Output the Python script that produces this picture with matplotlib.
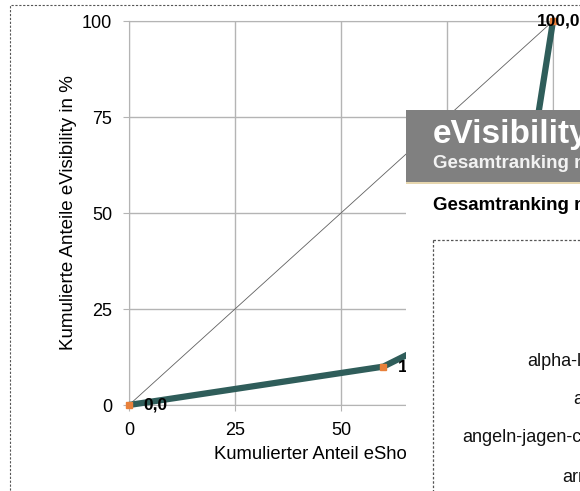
import matplotlib
matplotlib.use("Agg")
import matplotlib.pyplot as plt
import matplotlib.patches as mpatches

plt.rcParams['font.family'] = ['Liberation Sans', 'DejaVu Sans']

# Lorenz-Kurve: kumulierte Anteile
anteil_shops = [0, 60, 80, 95, 100]
anteil_visibility = [0, 10.0, 21, 65, 100]
punkt_labels = ["%.1f" % v for v in anteil_visibility]
punkt_labels = [s.replace(".", ",") for s in punkt_labels]

ticks = [0, 25, 50, 75, 100]

# Ranking-Liste (rechts, angeschnitten)
ranking_namen = ["alpha-lernhilfen.de", "amazon.de", "angeln-jagen-camping.de", "armbanduhren.de"]

W, H = 580, 491
fig = plt.figure(figsize=(W / 100, H / 100), dpi=100)
fig.patch.set_facecolor("white")

# gestrichelter Rahmen um das Diagramm
rahmen = mpatches.Rectangle((10 / W, -0.1), 1.2, 1 - 5 / H + 0.1, transform=fig.transFigure,
                            fill=False, ec="#555555", lw=0.8, ls=(0, (2, 1.5)), zorder=0)
fig.patches.append(rahmen)

ax = fig.add_axes([129 / W, 1 - 405 / H, (553 - 129) / W, (405 - 21) / H])
ax.set_xlim(0, 100)
ax.set_ylim(0, 100)
ax.set_xticks(ticks)
ax.set_yticks(ticks)
ax.grid(True, color="#b4b4b4", lw=1)
for s in ax.spines.values():
    s.set_color("#b4b4b4")
ax.tick_params(direction="out", length=4, color="#b4b4b4", labelsize=13, pad=8)
ax.set_xlabel("Kumulierter Anteil eShops in %", fontsize=13.3, labelpad=5)
ax.set_ylabel("Kumulierte Anteile eVisibility in %", fontsize=13.5, labelpad=4)

# Gleichverteilungslinie
ax.plot([0, 100], [0, 100], color="#606060", lw=0.6, zorder=3)
ax.plot(anteil_shops, anteil_visibility, color="#2f5d5a", lw=4.5, zorder=4,
        solid_capstyle="butt", clip_on=False)
ax.plot(anteil_shops, anteil_visibility, ls="none", marker="s", ms=5,
        color="#e8803a", zorder=5, clip_on=False)
for i, (x, y, t) in enumerate(zip(anteil_shops, anteil_visibility, punkt_labels)):
    if i == len(punkt_labels) - 1:
        ax.annotate(t, (x, y), xytext=(4, 0), textcoords="offset points",
                    ha="center", va="center", fontsize=12.5, fontweight="bold", zorder=6)
    else:
        ax.annotate(t, (x, y), xytext=(10.5, 0), textcoords="offset points",
                    ha="left", va="center", fontsize=12.5, fontweight="bold", zorder=6)

# überlagertes Fenster (eVisibility-Ranking)
px0, py0 = 406, 110
pan = fig.add_axes([px0 / W, 0, (W - px0) / W, (H - py0) / H], zorder=10)
pan.set_xlim(0, W - px0)
pan.set_ylim(H - py0, 0)
pan.axis("off")
pan.add_patch(mpatches.Rectangle((0, 0), W - px0, H - py0, fc="white", ec="none"))
pan.add_patch(mpatches.Rectangle((0, 0), W - px0, 72, fc="#808080", ec="none"))
pan.add_patch(mpatches.Rectangle((0, 72), W - px0, 2, fc="#e6d6ae", ec="none"))
pan.text(27, 25, "eVisibility", color="white", fontsize=24, fontweight="bold",
         ha="left", va="center")
pan.text(27, 53, "Gesamtranking nach Branchen", color="#f2f2f2", fontsize=13.5,
         fontweight="bold", ha="left", va="center")
pan.text(27, 95, "Gesamtranking nach Branchen", color="black", fontsize=13.5,
         fontweight="bold", ha="left", va="center")
pan.add_patch(mpatches.Rectangle((27, 130), 300, 400, fill=False, ec="#555555",
                                 lw=0.9, ls=(0, (2, 1.5))))
rank_x = [121, 167, 56, 156]
rank_y = [252, 290, 328, 368]
for n, x, y in zip(ranking_namen, rank_x, rank_y):
    pan.text(x, y, n, fontsize=13, ha="left", va="center", color="#111111")

fig.savefig("out.png", dpi=100)
